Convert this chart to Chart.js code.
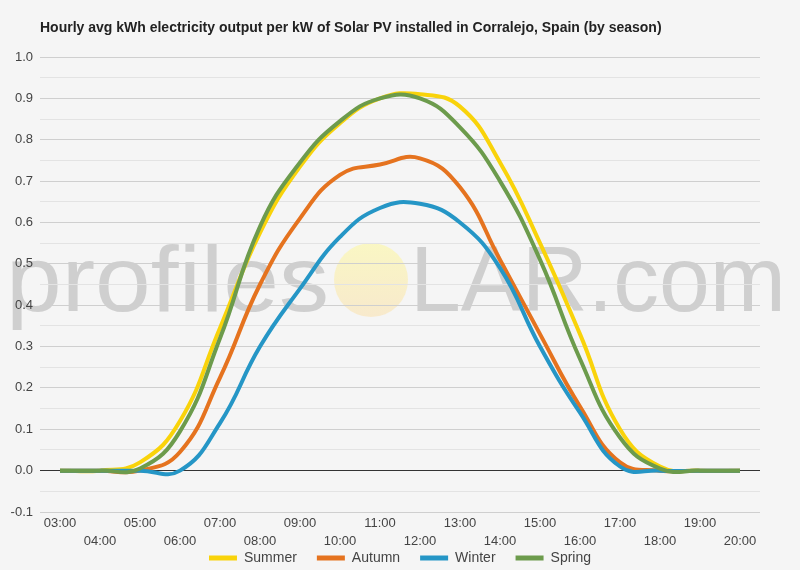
<!DOCTYPE html>
<html>
<head>
<meta charset="utf-8">
<script src="https://cdn.jsdelivr.net/npm/chart.js@4.4.1/dist/chart.umd.min.js"></script>
<style>
  html, body { margin: 0; padding: 0; background: #f5f5f5; }
  #wrap { position: relative; width: 800px; height: 570px; }
</style>
</head>
<body>
<div id="wrap"><canvas id="solarChart" width="800" height="570"></canvas></div>
<script>
// ------ Data ------
const chartTitle = 'Hourly avg kWh electricity output per kW of Solar PV installed in Corralejo, Spain (by season)';
const hours   = ['03:00','04:00','05:00','06:00','07:00','08:00','09:00','10:00','11:00',
                 '12:00','13:00','14:00','15:00','16:00','17:00','18:00','19:00','20:00'];
const summer  = [0, 0, 0.02, 0.12, 0.345, 0.575, 0.735, 0.84, 0.90, 0.91, 0.88, 0.745, 0.55, 0.33, 0.10, 0.01, 0, 0];
const autumn  = [0, 0, 0, 0.045, 0.225, 0.45, 0.61, 0.715, 0.74, 0.755, 0.685, 0.51, 0.33, 0.155, 0.02, 0, 0, 0];
const winter  = [0, 0, 0, 0, 0.115, 0.30, 0.44, 0.565, 0.635, 0.645, 0.60, 0.49, 0.30, 0.14, 0.01, 0, 0, 0];
const spring  = [0, 0, 0.005, 0.095, 0.32, 0.59, 0.745, 0.845, 0.90, 0.90, 0.83, 0.70, 0.51, 0.27, 0.08, 0.005, 0, 0];
const yTicks  = { min: -0.1, max: 1.0, step: 0.05 };

const FONT = 'Arial, "Liberation Sans", sans-serif';
const LEGEND_PAD = 20;

// ------ Plugins ------
const watermark = {
  id: 'watermark',
  beforeDraw(chart) {
    const ctx = chart.ctx;
    ctx.save();
    ctx.font = '92px ' + FONT;
    ctx.textBaseline = 'alphabetic';
    ctx.fillStyle = 'rgba(170,170,170,0.5)';
    const part = (txt, x0, x1, base) => {
      const w = ctx.measureText(txt).width;
      ctx.save();
      ctx.translate(x0, base);
      ctx.scale((x1 - x0) / w, 1);
      ctx.fillText(txt, 0, 0);
      ctx.restore();
    };
    part('profiles', 6, 329, 311);
    part('LAR.com', 410, 786, 311);
    // sun in place of the "O"
    const g = ctx.createLinearGradient(0, 243, 0, 317);
    g.addColorStop(0, 'rgba(250,247,190,0.9)');
    g.addColorStop(1, 'rgba(248,232,200,0.9)');
    ctx.fillStyle = g;
    ctx.beginPath();
    ctx.arc(371, 280, 37, 0, Math.PI * 2);
    ctx.fill();
    ctx.restore();
  },
  afterLayout(chart) {
    // pull the legend up under the second row of hour labels, centred on the page
    const lg = chart.legend;
    if (!lg) return;
    lg.top = 558 - LEGEND_PAD - 7;
    lg.left += 20; lg.right += 20;
  },
  afterDraw(chart) {
    const ctx = chart.ctx;
    ctx.save();
    ctx.font = 'bold 14px ' + FONT;
    ctx.fillStyle = '#222';
    ctx.textBaseline = 'middle';
    ctx.fillText(chartTitle, chart.chartArea.left, 28);
    ctx.restore();
  }
};

// ------ Chart ------
const mk = (label, data, color, order) => ({
  label, data, order,
  borderColor: color, backgroundColor: color,
  borderWidth: 4, pointRadius: 0, tension: 0.45, fill: false
});

new Chart(document.getElementById('solarChart'), {
  type: 'line',
  data: {
    labels: hours,
    datasets: [
      mk('Summer', summer, '#F9D30A', 4),
      mk('Autumn', autumn, '#E5731F', 3),
      mk('Winter', winter, '#2596C6', 2),
      mk('Spring', spring, '#6C9B4C', 1)
    ]
  },
  options: {
    responsive: false,
    animation: false,
    layout: { padding: { top: 57, right: 40, left: 0, bottom: 0 } },
    plugins: {
      legend: {
        position: 'bottom',
        maxHeight: 18,
        labels: {
          boxWidth: 28, boxHeight: 5, padding: LEGEND_PAD,
          color: '#444', font: { family: FONT, size: 14 },
          sort: (a, b) => a.datasetIndex - b.datasetIndex,
          generateLabels: chart => Chart.defaults.plugins.legend.labels.generateLabels(chart)
            .map(l => Object.assign(l, { lineWidth: 0 }))
        }
      },
      tooltip: { enabled: false }
    },
    scales: {
      x: {
        offset: true,
        grid: { display: false, drawTicks: false },
        border: { display: false },
        ticks: {
          autoSkip: false, maxRotation: 0, padding: 2,
          color: '#444', font: { family: FONT, size: 13, lineHeight: 1.385 },
          callback: function (v, i) { const l = this.getLabelForValue(v); return i % 2 ? ['', l] : l; }
        },
        afterFit: s => { s.height = 40; }
      },
      y: {
        min: yTicks.min, max: yTicks.max,
        border: { display: false },
        grid: {
          drawTicks: false,
          color: c => {
            const v = c.tick.value;
            if (Math.abs(v) < 1e-6) return '#333';
            return Math.abs(v * 10 - Math.round(v * 10)) < 1e-6 ? '#cfcfcf' : '#e3e3e3';
          }
        },
        ticks: {
          stepSize: yTicks.step, padding: 7,
          color: '#444', font: { family: FONT, size: 13 },
          callback: v => Math.abs(v * 10 - Math.round(v * 10)) < 1e-6 ? v.toFixed(1) : ''
        },
        afterFit: s => { s.width = 40; }
      }
    }
  },
  plugins: [watermark]
});
</script>
</body>
</html>
